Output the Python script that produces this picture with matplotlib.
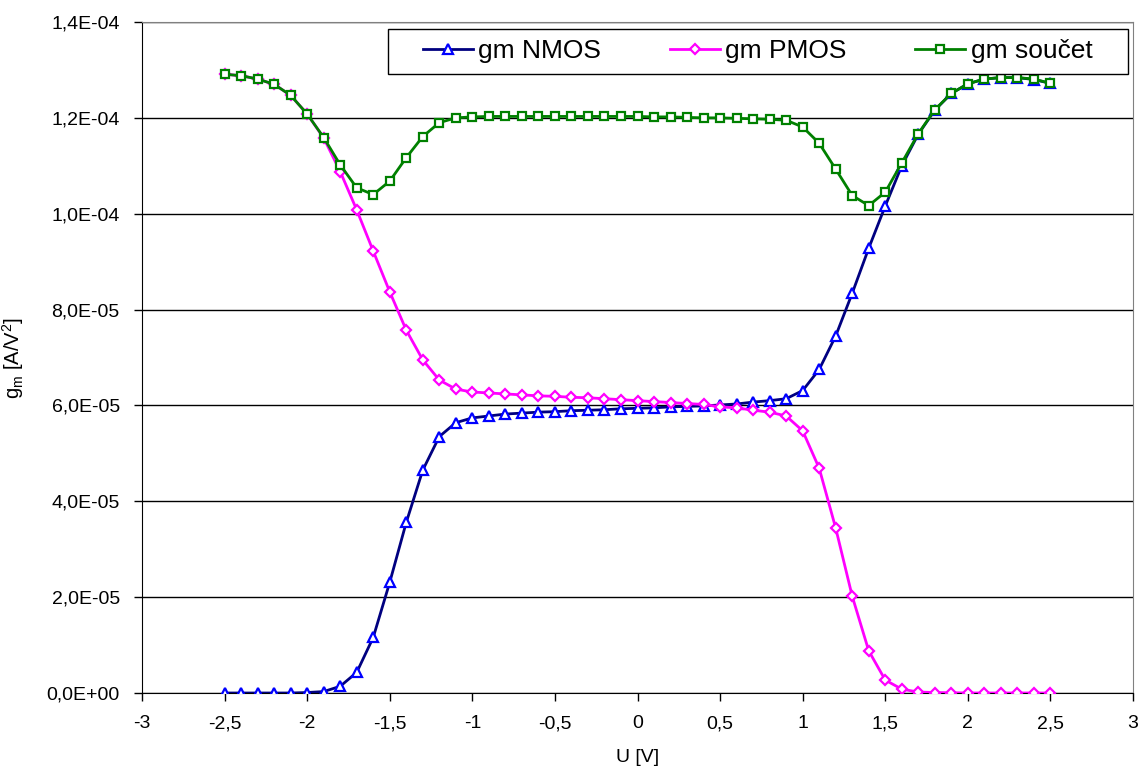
import numpy as np
import matplotlib
matplotlib.use("Agg")
import matplotlib.pyplot as plt
from matplotlib.patches import Rectangle
from matplotlib.ticker import FuncFormatter, MultipleLocator

plt.rcParams['font.family'] = ['Liberation Sans', 'DejaVu Sans']
plt.rcParams['mathtext.default'] = 'regular'

# napeti U [V]
u = [-2.5, -2.4, -2.3, -2.2, -2.1, -2.0, -1.9, -1.8, -1.7, -1.6,
     -1.5, -1.4, -1.3, -1.2, -1.1, -1.0, -0.9, -0.8, -0.7, -0.6,
     -0.5, -0.4, -0.3, -0.2, -0.1, 0.0, 0.1, 0.2, 0.3, 0.4,
     0.5, 0.6, 0.7, 0.8, 0.9, 1.0, 1.1, 1.2, 1.3, 1.4,
     1.5, 1.6, 1.7, 1.8, 1.9, 2.0, 2.1, 2.2, 2.3, 2.4, 2.5]

# gm NMOS [A/V^2]
gm_nmos = [0.0, 0.0, 0.0, 0.0, 0.0, 0.1e-6, 0.3e-6, 1.4e-6, 4.3e-6, 11.6e-6,
           23.1e-6, 35.6e-6, 46.5e-6, 53.5e-6, 56.4e-6, 57.4e-6, 57.8e-6, 58.2e-6, 58.4e-6, 58.6e-6,
           58.7e-6, 58.9e-6, 59.0e-6, 59.1e-6, 59.3e-6, 59.4e-6, 59.5e-6, 59.7e-6, 59.8e-6, 59.9e-6,
           60.1e-6, 60.3e-6, 60.7e-6, 61.0e-6, 61.4e-6, 63.1e-6, 67.5e-6, 74.5e-6, 83.4e-6, 92.8e-6,
           101.6e-6, 110.0e-6, 116.6e-6, 121.6e-6, 125.1e-6, 127.1e-6, 128.1e-6, 128.4e-6, 128.4e-6, 128.0e-6, 127.2e-6]

# gm PMOS [A/V^2]
gm_pmos = [129.1e-6, 128.8e-6, 128.1e-6, 127.0e-6, 124.7e-6, 120.8e-6, 115.8e-6, 108.8e-6, 100.8e-6, 92.2e-6,
           83.7e-6, 75.7e-6, 69.5e-6, 65.3e-6, 63.4e-6, 62.8e-6, 62.6e-6, 62.4e-6, 62.2e-6, 62.0e-6,
           61.9e-6, 61.7e-6, 61.6e-6, 61.4e-6, 61.2e-6, 61.0e-6, 60.8e-6, 60.6e-6, 60.4e-6, 60.2e-6,
           59.7e-6, 59.5e-6, 59.0e-6, 58.6e-6, 57.8e-6, 54.7e-6, 46.9e-6, 34.4e-6, 20.2e-6, 8.8e-6,
           2.7e-6, 0.8e-6, 0.2e-6, 0.1e-6, 0.05e-6, 0.0, 0.0, 0.0, 0.0, 0.0, 0.0]

# gm soucet [A/V^2]
gm_sum = [129.1e-6, 128.8e-6, 128.1e-6, 127.0e-6, 124.7e-6, 120.8e-6, 115.9e-6, 110.2e-6, 105.4e-6, 104.0e-6,
          106.8e-6, 111.7e-6, 116.1e-6, 119.0e-6, 120.0e-6, 120.2e-6, 120.3e-6, 120.3e-6, 120.3e-6, 120.3e-6,
          120.3e-6, 120.3e-6, 120.3e-6, 120.3e-6, 120.3e-6, 120.3e-6, 120.2e-6, 120.2e-6, 120.1e-6, 120.0e-6,
          120.0e-6, 119.9e-6, 119.8e-6, 119.7e-6, 119.5e-6, 118.1e-6, 114.7e-6, 109.3e-6, 103.8e-6, 101.7e-6,
          104.5e-6, 110.6e-6, 116.7e-6, 121.7e-6, 125.1e-6, 127.1e-6, 128.1e-6, 128.4e-6, 128.4e-6, 128.1e-6, 127.2e-6]

W, H = 1144, 774
fig = plt.figure(figsize=(W / 100, H / 100), dpi=100)
ax = fig.add_axes([142 / W, 81 / H, 991 / W, 671 / H])

ax.plot(u, gm_nmos, color='#000080', lw=2, marker='^', ms=7, mec='#0000FF',
        mfc='white', mew=1.6, label='gm NMOS', zorder=3)
ax.plot(u, gm_pmos, color='#FF00FF', lw=2, marker='D', ms=5.5, mec='#FF00FF',
        mfc='white', mew=1.6, label='gm PMOS', zorder=3)
ax.plot(u, gm_sum, color='#008000', lw=2, marker='s', ms=6, mec='#008000',
        mfc='white', mew=1.6, label='gm součet', zorder=4)

ax.set_xlim(-3, 3)
ax.set_ylim(0, 1.4e-4)
ax.xaxis.set_major_locator(MultipleLocator(0.5))
ax.yaxis.set_major_locator(MultipleLocator(2e-5))


def fmt_x(v, pos):
    s = f"{v:g}" if abs(v - round(v)) > 1e-9 else f"{int(round(v))}"
    return s.replace('.', ',')


def fmt_y(v, pos):
    return f"{v:.1E}".replace('.', ',')


ax.xaxis.set_major_formatter(FuncFormatter(fmt_x))
ax.yaxis.set_major_formatter(FuncFormatter(fmt_y))
ax.tick_params(axis='both', direction='out', length=6, width=1, labelsize=14, colors='black')
ax.tick_params(axis='x', pad=10)
ax.tick_params(axis='y', pad=10)

ax.grid(axis='y', color='black', lw=1)
ax.set_axisbelow(True)
for side in ['top', 'right']:
    ax.spines[side].set_color('#808080')
for side in ['left', 'bottom']:
    ax.spines[side].set_color('black')

ax.set_xlabel('U [V]', fontsize=14)
ax.xaxis.set_label_coords(0.5, -(749 - 693) / 671)
ax.set_ylabel('g$_{m}$ [A/V$^{2}$]', fontsize=14.5)
ax.yaxis.set_label_coords(-(142 - 26) / 991, 0.5)

# legenda - ramecek zvlast, jako v Excelu
box = Rectangle((388 / W, 1 - 74 / H), (1128 - 388) / W, (74 - 29) / H,
                transform=fig.transFigure, facecolor='white', edgecolor='black',
                lw=1, zorder=5, clip_on=False)
ax.add_patch(box)
leg = ax.legend(loc='center left', bbox_to_anchor=((423 - 142) / 991, (693 - 51) / 671),
                ncol=3, fontsize=19, frameon=False,
                handlelength=1.9, handletextpad=0.2, columnspacing=2.6,
                borderpad=0, borderaxespad=0)
leg.set_zorder(6)

fig.savefig('out.png', dpi=100)
